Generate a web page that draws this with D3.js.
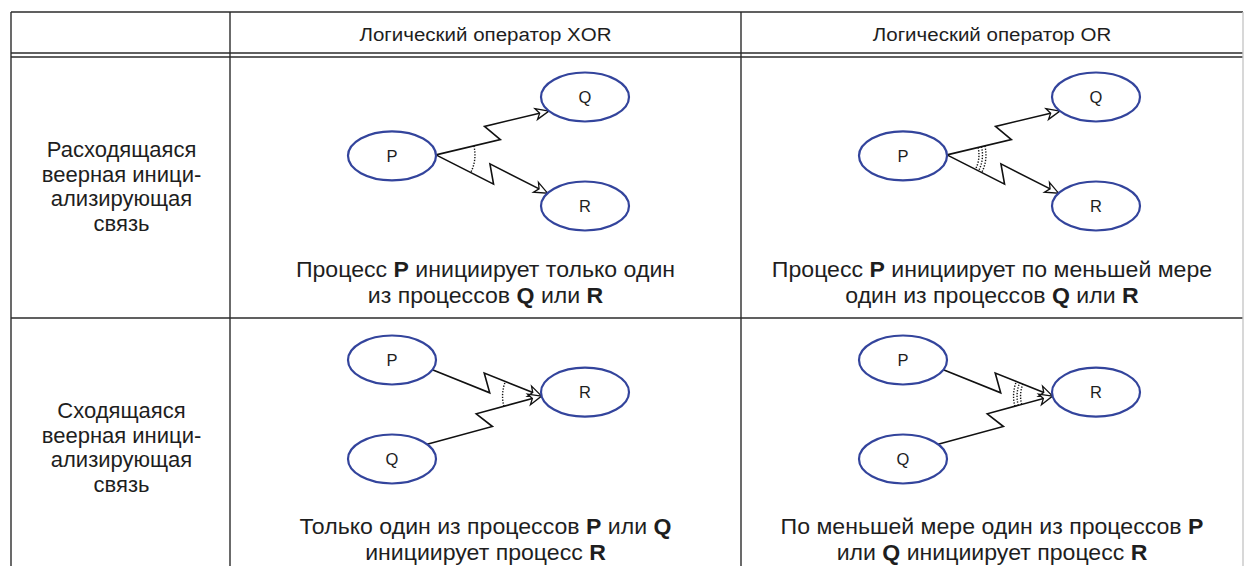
<!DOCTYPE html>
<html>
<head>
<meta charset="utf-8">
<script src="https://cdn.jsdelivr.net/npm/d3@7/dist/d3.min.js"></script>
<style>
  html, body { margin: 0; padding: 0; background: #ffffff; }
  svg { display: block; }
  text { font-family: "Liberation Sans", Arial, sans-serif; fill: #1e1e1e; }
</style>
</head>
<body>
<svg id="chart" width="1246" height="566"></svg>
<script>
// ---------------- data ----------------
const columnHeaders = ["", "Логический оператор XOR", "Логический оператор OR"];
const rowLabels = [
  ["Расходящаяся", "веерная иници-", "ализирующая", "связь"],
  ["Сходящаяся", "веерная иници-", "ализирующая", "связь"]
];
const operators = ["XOR", "OR"];
const operatorArcCount = [1, 3];
// captions[row][col] -> lines -> segments [text, bold]
const captions = [
  [
    [[["Процесс ", false], ["P", true], [" инициирует только один", false]],
     [["из процессов ", false], ["Q", true], [" или ", false], ["R", true]]],
    [[["Процесс ", false], ["P", true], [" инициирует по меньшей мере", false]],
     [["один из процессов ", false], ["Q", true], [" или ", false], ["R", true]]]
  ],
  [
    [[["Только один из процессов ", false], ["P", true], [" или ", false], ["Q", true]],
     [["инициирует процесс ", false], ["R", true]]],
    [[["По меньшей мере один из процессов ", false], ["P", true]],
     [["или ", false], ["Q", true], [" инициирует процесс ", false], ["R", true]]]
  ]
];
// node layout in abstract grid units (u: column of the diagram, v: level)
const divergingNodes = [
  { id: "P", u: 0, v: 1.08 },
  { id: "Q", u: 1, v: 0 },
  { id: "R", u: 1, v: 2 }
];
const convergingNodes = [
  { id: "P", u: 0, v: 0 },
  { id: "Q", u: 0, v: 2 },
  { id: "R", u: 1, v: 0.65 }
];
const divergingEdges = [["P", "Q"], ["P", "R"]];
const convergingEdges = [["P", "R"], ["Q", "R"]];
const diagramKinds = ["diverging", "converging"];

// ---------------- layout ----------------
const W = 1246, H = 566;
const colEdges = [11, 230, 741, 1243];
const rowEdges = [12, 57, 318, 600];
const headerLine2 = 53;
const lineColor = "#2b2b2b";
const nodeColor = "#33449c";
const RX = 44, RY = 24.5;

const svg = d3.select("#chart");
svg.append("rect").attr("width", W).attr("height", H).attr("fill", "#fff");

const defs = svg.append("defs");
defs.append("marker")
  .attr("id", "openArrow")
  .attr("viewBox", "-15 -8 17 16")
  .attr("refX", 0).attr("refY", 0)
  .attr("markerWidth", 17).attr("markerHeight", 16)
  .attr("markerUnits", "userSpaceOnUse")
  .attr("orient", "auto")
  .append("path")
  .attr("d", "M-13,-5.5 L0,0 L-13,5.5 L-9.5,0 Z")
  .attr("fill", "#fff")
  .attr("stroke", "#111")
  .attr("stroke-width", 1.3)
  .attr("stroke-linejoin", "miter");

// ---------------- table grid ----------------
const grid = svg.append("g").attr("stroke", lineColor).attr("stroke-width", 1.4).attr("fill", "none");
grid.append("line").attr("x1", colEdges[0]).attr("x2", colEdges[3]).attr("y1", rowEdges[0]).attr("y2", rowEdges[0]);
grid.append("line").attr("x1", colEdges[0]).attr("x2", colEdges[3]).attr("y1", headerLine2).attr("y2", headerLine2);
grid.append("line").attr("x1", colEdges[0]).attr("x2", colEdges[3]).attr("y1", rowEdges[1]).attr("y2", rowEdges[1]);
grid.append("line").attr("x1", colEdges[0]).attr("x2", colEdges[3]).attr("y1", rowEdges[2]).attr("y2", rowEdges[2]);
colEdges.forEach((x, i) => {
  grid.append("line").attr("x1", x).attr("x2", x).attr("y1", rowEdges[0]).attr("y2", H)
    .attr("stroke", i === 3 ? "#c8c8c8" : lineColor);
});

// helper: centered, slightly widened text line
function textLine(x, y, size, sx) {
  return svg.append("text")
    .attr("transform", `translate(${x},${y}) scale(${sx},1)`)
    .attr("text-anchor", "middle")
    .attr("font-size", size);
}

// ---------------- headers ----------------
columnHeaders.forEach((h, i) => {
  if (!h) return;
  textLine((colEdges[i] + colEdges[i + 1]) / 2, 41, 19, 1.08).text(h);
});

// ---------------- row labels ----------------
rowLabels.forEach((lines, r) => {
  lines.forEach((ln, k) => {
    textLine((colEdges[0] + colEdges[1]) / 2 + 1, rowEdges[r + 1] + 100 + k * 24.5, 22, 1.0).text(ln);
  });
});

// ---------------- captions ----------------
captions.forEach((rowCaps, r) => {
  rowCaps.forEach((lines, c) => {
    const cx = (colEdges[c + 1] + colEdges[c + 2]) / 2;
    lines.forEach((segs, k) => {
      const t = textLine(cx, rowEdges[r + 1] + (r === 0 ? 220 : 216) + k * 25.5, 22, 1.05);
      segs.forEach(([s, b]) => {
        t.append("tspan").attr("font-weight", b ? "bold" : "normal").text(s);
      });
    });
  });
});

// ---------------- diagrams ----------------
function boundaryToward(c, p) {
  const dx = p[0] - c.x, dy = p[1] - c.y;
  const t = 1 / Math.sqrt((dx / RX) ** 2 + (dy / RY) ** 2);
  return [c.x + dx * t, c.y + dy * t];
}

function drawDiagram(g, kind, op, cellLeft, rowTop) {
  const nodes = kind === "diverging" ? divergingNodes : convergingNodes;
  const edges = kind === "diverging" ? divergingEdges : convergingEdges;
  const xs = d3.scaleLinear().domain([0, 1]).range([cellLeft + 162, cellLeft + 355]);
  const ys = kind === "diverging"
    ? d3.scaleLinear().domain([0, 2]).range([rowTop + 40, rowTop + 149])
    : d3.scaleLinear().domain([0, 2]).range([rowTop + 42, rowTop + 141]);
  const N = {};
  nodes.forEach(n => { N[n.id] = { id: n.id, x: xs(n.u), y: ys(n.v) }; });

  let hub, hubPoint;
  if (kind === "diverging") {
    hub = N[edges[0][0]];
    const others = edges.map(e => N[e[1]]);
    hubPoint = boundaryToward(hub, [d3.mean(others, o => o.x), d3.mean(others, o => o.y)]);
  } else {
    hub = N[edges[0][1]];
    const others = edges.map(e => N[e[0]]);
    hubPoint = boundaryToward(hub, [d3.mean(others, o => o.x), d3.mean(others, o => o.y)]);
  }

  const angles = [];
  edges.forEach(([a, b]) => {
    let S, E;
    if (kind === "diverging") { S = hubPoint; E = boundaryToward(N[b], hubPoint); }
    else { E = hubPoint; S = boundaryToward(N[a], hubPoint); }
    const dx = E[0] - S[0], dy = E[1] - S[1];
    const L = Math.hypot(dx, dy);
    const u = [dx / L, dy / L], n = [-u[1], u[0]];
    const M = [(S[0] + E[0]) / 2, (S[1] + E[1]) / 2];
    const A = [M[0] + 5 * u[0] + 9 * n[0], M[1] + 5 * u[1] + 9 * n[1]];
    const B = [M[0] - 5 * u[0] - 9 * n[0], M[1] - 5 * u[1] - 9 * n[1]];
    g.append("path")
      .attr("d", d3.line()([S, A, B, E]))
      .attr("fill", "none")
      .attr("stroke", "#111")
      .attr("stroke-width", 1.6)
      .attr("stroke-linejoin", "miter")
      .attr("marker-end", "url(#openArrow)");
    if (kind === "diverging") angles.push(Math.atan2(A[1] - S[1], A[0] - S[0]));
    else angles.push(Math.atan2(B[1] - E[1], B[0] - E[0]));
  });
  let a0 = d3.min(angles), a1 = d3.max(angles);
  if (a1 - a0 > Math.PI) { const t = a0 + 2 * Math.PI; a0 = a1; a1 = t; }
  const count = op === "XOR" ? operatorArcCount[0] : operatorArcCount[1];
  const radii = count === 1 ? [39] : [32, 35.5, 39];
  radii.forEach(r => {
    const p = d3.path();
    p.arc(hubPoint[0], hubPoint[1], r, a0, a1, false);
    g.append("path")
      .attr("d", p.toString())
      .attr("fill", "none")
      .attr("stroke", "#111")
      .attr("stroke-width", 1.4)
      .attr("stroke-dasharray", "1.3 1.5");
  });

  Object.values(N).forEach(nd => {
    g.append("ellipse")
      .attr("cx", nd.x).attr("cy", nd.y).attr("rx", RX).attr("ry", RY)
      .attr("fill", "#fff")
      .attr("stroke", nodeColor)
      .attr("stroke-width", 2.2);
    g.append("text")
      .attr("x", nd.x).attr("y", nd.y + 6)
      .attr("text-anchor", "middle")
      .attr("font-size", 16.5)
      .text(nd.id);
  });
}

diagramKinds.forEach((kind, r) => {
  operators.forEach((op, c) => {
    drawDiagram(svg.append("g"), kind, op, colEdges[c + 1], rowEdges[r + 1]);
  });
});
</script>
</body>
</html>
